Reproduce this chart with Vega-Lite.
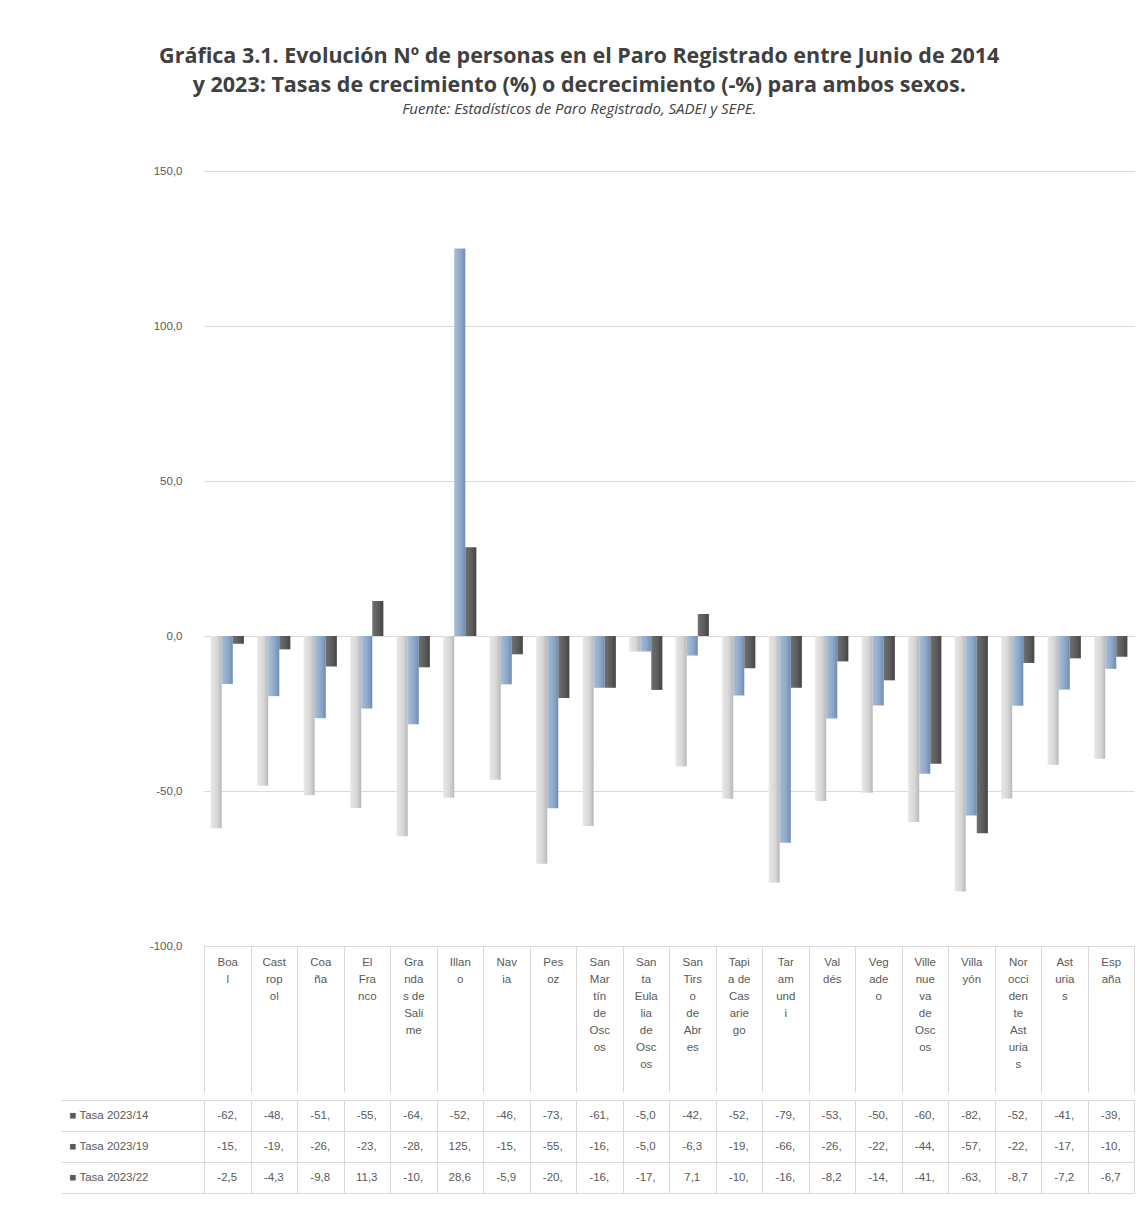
{
  "$schema": "https://vega.github.io/schema/vega-lite/v6.json",
  "padding": {"left": 60, "top": 45, "right": 3, "bottom": 10},
  "background": "white",
  "config": {
    "locale": {"number": {"decimal": ",", "thousands": ".", "grouping": [3], "currency": ["", " €"], "minus": "-"}},
    "font": "Liberation Sans Narrow, Liberation Sans, sans-serif",
    "view": {"stroke": null}
  },
  "title": {
    "text": ["Gráfica 3.1. Evolución Nº de personas en el Paro Registrado entre Junio de 2014", "y 2023: Tasas de crecimiento (%) o decrecimiento (-%) para ambos sexos."],
    "subtitle": "Fuente: Estadísticos de Paro Registrado, SADEI y SEPE.",
    "anchor": "middle",
    "dx": -18,
    "font": "Open Sans",
    "fontSize": 21.5,
    "fontWeight": "bold",
    "color": "#404040",
    "lineHeight": 29,
    "subtitleFont": "Open Sans",
    "subtitleFontSize": 15,
    "subtitleFontStyle": "italic",
    "subtitleColor": "#404040",
    "subtitlePadding": 6,
    "offset": 48
  },
  "datasets": {
    "municipios": [
      {"municipio": "Boal", "rotulo": "Boa|l"},
      {"municipio": "Castropol", "rotulo": "Cast|rop|ol"},
      {"municipio": "Coaña", "rotulo": "Coa|ña"},
      {"municipio": "El Franco", "rotulo": "El|Fra|nco"},
      {"municipio": "Grandas de Salime", "rotulo": "Gra|nda|s de|Sali|me"},
      {"municipio": "Illano", "rotulo": "Illan|o"},
      {"municipio": "Navia", "rotulo": "Nav|ia"},
      {"municipio": "Pesoz", "rotulo": "Pes|oz"},
      {"municipio": "San Martín de Oscos", "rotulo": "San|Mar|tín|de|Osc|os"},
      {"municipio": "Santa Eulalia de Oscos", "rotulo": "San|ta|Eula|lia|de|Osc|os"},
      {"municipio": "San Tirso de Abres", "rotulo": "San|Tirs|o|de|Abr|es"},
      {"municipio": "Tapia de Casariego", "rotulo": "Tapi|a de|Cas|arie|go"},
      {"municipio": "Taramundi", "rotulo": "Tar|am|und|i"},
      {"municipio": "Valdés", "rotulo": "Val|dés"},
      {"municipio": "Vegadeo", "rotulo": "Veg|ade|o"},
      {"municipio": "Villanueva de Oscos", "rotulo": "Ville|nue|va|de|Osc|os"},
      {"municipio": "Villayón", "rotulo": "Villa|yón"},
      {"municipio": "Noroccidente Asturias", "rotulo": "Nor|occi|den|te|Ast|uria|s"},
      {"municipio": "Asturias", "rotulo": "Ast|uria|s"},
      {"municipio": "España", "rotulo": "Esp|aña"}
    ],
    "tasas": [
      {"municipio": "Boal", "serie": "Tasa 2023/14", "tasa": -62.0},
      {"municipio": "Boal", "serie": "Tasa 2023/19", "tasa": -15.5},
      {"municipio": "Boal", "serie": "Tasa 2023/22", "tasa": -2.5},
      {"municipio": "Castropol", "serie": "Tasa 2023/14", "tasa": -48.3},
      {"municipio": "Castropol", "serie": "Tasa 2023/19", "tasa": -19.4},
      {"municipio": "Castropol", "serie": "Tasa 2023/22", "tasa": -4.3},
      {"municipio": "Coaña", "serie": "Tasa 2023/14", "tasa": -51.4},
      {"municipio": "Coaña", "serie": "Tasa 2023/19", "tasa": -26.5},
      {"municipio": "Coaña", "serie": "Tasa 2023/22", "tasa": -9.8},
      {"municipio": "El Franco", "serie": "Tasa 2023/14", "tasa": -55.5},
      {"municipio": "El Franco", "serie": "Tasa 2023/19", "tasa": -23.4},
      {"municipio": "El Franco", "serie": "Tasa 2023/22", "tasa": 11.3},
      {"municipio": "Grandas de Salime", "serie": "Tasa 2023/14", "tasa": -64.6},
      {"municipio": "Grandas de Salime", "serie": "Tasa 2023/19", "tasa": -28.5},
      {"municipio": "Grandas de Salime", "serie": "Tasa 2023/22", "tasa": -10.1},
      {"municipio": "Illano", "serie": "Tasa 2023/14", "tasa": -52.2},
      {"municipio": "Illano", "serie": "Tasa 2023/19", "tasa": 125.0},
      {"municipio": "Illano", "serie": "Tasa 2023/22", "tasa": 28.6},
      {"municipio": "Navia", "serie": "Tasa 2023/14", "tasa": -46.4},
      {"municipio": "Navia", "serie": "Tasa 2023/19", "tasa": -15.6},
      {"municipio": "Navia", "serie": "Tasa 2023/22", "tasa": -5.9},
      {"municipio": "Pesoz", "serie": "Tasa 2023/14", "tasa": -73.5},
      {"municipio": "Pesoz", "serie": "Tasa 2023/19", "tasa": -55.6},
      {"municipio": "Pesoz", "serie": "Tasa 2023/22", "tasa": -20.0},
      {"municipio": "San Martín de Oscos", "serie": "Tasa 2023/14", "tasa": -61.3},
      {"municipio": "San Martín de Oscos", "serie": "Tasa 2023/19", "tasa": -16.7},
      {"municipio": "San Martín de Oscos", "serie": "Tasa 2023/22", "tasa": -16.7},
      {"municipio": "Santa Eulalia de Oscos", "serie": "Tasa 2023/14", "tasa": -5.0},
      {"municipio": "Santa Eulalia de Oscos", "serie": "Tasa 2023/19", "tasa": -5.0},
      {"municipio": "Santa Eulalia de Oscos", "serie": "Tasa 2023/22", "tasa": -17.4},
      {"municipio": "San Tirso de Abres", "serie": "Tasa 2023/14", "tasa": -42.1},
      {"municipio": "San Tirso de Abres", "serie": "Tasa 2023/19", "tasa": -6.3},
      {"municipio": "San Tirso de Abres", "serie": "Tasa 2023/22", "tasa": 7.1},
      {"municipio": "Tapia de Casariego", "serie": "Tasa 2023/14", "tasa": -52.5},
      {"municipio": "Tapia de Casariego", "serie": "Tasa 2023/19", "tasa": -19.2},
      {"municipio": "Tapia de Casariego", "serie": "Tasa 2023/22", "tasa": -10.4},
      {"municipio": "Taramundi", "serie": "Tasa 2023/14", "tasa": -79.5},
      {"municipio": "Taramundi", "serie": "Tasa 2023/19", "tasa": -66.7},
      {"municipio": "Taramundi", "serie": "Tasa 2023/22", "tasa": -16.7},
      {"municipio": "Valdés", "serie": "Tasa 2023/14", "tasa": -53.2},
      {"municipio": "Valdés", "serie": "Tasa 2023/19", "tasa": -26.6},
      {"municipio": "Valdés", "serie": "Tasa 2023/22", "tasa": -8.2},
      {"municipio": "Vegadeo", "serie": "Tasa 2023/14", "tasa": -50.6},
      {"municipio": "Vegadeo", "serie": "Tasa 2023/19", "tasa": -22.4},
      {"municipio": "Vegadeo", "serie": "Tasa 2023/22", "tasa": -14.3},
      {"municipio": "Villanueva de Oscos", "serie": "Tasa 2023/14", "tasa": -60.0},
      {"municipio": "Villanueva de Oscos", "serie": "Tasa 2023/19", "tasa": -44.4},
      {"municipio": "Villanueva de Oscos", "serie": "Tasa 2023/22", "tasa": -41.2},
      {"municipio": "Villayón", "serie": "Tasa 2023/14", "tasa": -82.4},
      {"municipio": "Villayón", "serie": "Tasa 2023/19", "tasa": -57.9},
      {"municipio": "Villayón", "serie": "Tasa 2023/22", "tasa": -63.6},
      {"municipio": "Noroccidente Asturias", "serie": "Tasa 2023/14", "tasa": -52.4},
      {"municipio": "Noroccidente Asturias", "serie": "Tasa 2023/19", "tasa": -22.5},
      {"municipio": "Noroccidente Asturias", "serie": "Tasa 2023/22", "tasa": -8.7},
      {"municipio": "Asturias", "serie": "Tasa 2023/14", "tasa": -41.5},
      {"municipio": "Asturias", "serie": "Tasa 2023/19", "tasa": -17.3},
      {"municipio": "Asturias", "serie": "Tasa 2023/22", "tasa": -7.2},
      {"municipio": "España", "serie": "Tasa 2023/14", "tasa": -39.6},
      {"municipio": "España", "serie": "Tasa 2023/19", "tasa": -10.6},
      {"municipio": "España", "serie": "Tasa 2023/22", "tasa": -6.7}
    ]
  },
  "spacing": 0,
  "vconcat": [
    {
      "width": 930,
      "height": 775,
      "data": {"name": "tasas"},
      "transform": [
        {"lookup": "municipio", "from": {"data": {"name": "municipios"}, "key": "municipio", "fields": ["rotulo"]}}
      ],
      "encoding": {
        "x": {
          "field": "rotulo", "type": "nominal", "sort": null,
          "scale": {"paddingInner": 0, "paddingOuter": 0},
          "axis": {
            "title": null, "labelAngle": 0, "labelExpr": "split(datum.label, '|')",
            "labelBaseline": "top", "labelAlign": "center", "labelPadding": -136,
            "labelLineHeight": 17, "labelFontSize": 11.5, "labelColor": "#595959",
            "labelLimit": 0, "labelOverlap": false,
            "tickBand": "extent", "tickSize": 146, "tickColor": "#d9d9d9",
            "domainColor": "#d9d9d9", "grid": false
          }
        },
        "xOffset": {"field": "serie", "type": "nominal", "sort": null, "scale": {"domain": ["Tasa 2023/14", "Tasa 2023/19", "Tasa 2023/22"], "paddingOuter": 0.6, "paddingInner": 0}},
        "y": {
          "field": "tasa", "type": "quantitative",
          "scale": {"domain": [-100, 150], "nice": false},
          "axis": {
            "title": null, "values": [-100, -50, 0, 50, 100, 150], "format": ".1f",
            "ticks": false, "domain": false, "gridColor": "#d9d9d9",
            "labelPadding": 22, "labelFontSize": 11.5, "labelColor": "#595959"
          }
        }
      },
      "layer": [
        {
          "transform": [{"filter": "datum.serie == 'Tasa 2023/14'"}],
          "mark": {"type": "bar", "color": {"gradient": "linear", "x1": 0, "x2": 1, "y1": 0, "y2": 0, "stops": [{"offset": 0, "color": "#e8e8e8"}, {"offset": 0.6, "color": "#d6d6d6"}, {"offset": 1, "color": "#b8b8b8"}]}}
        },
        {
          "transform": [{"filter": "datum.serie == 'Tasa 2023/19'"}],
          "mark": {"type": "bar", "color": {"gradient": "linear", "x1": 0, "x2": 1, "y1": 0, "y2": 0, "stops": [{"offset": 0, "color": "#a9bed8"}, {"offset": 0.6, "color": "#8ca7c7"}, {"offset": 1, "color": "#6f8db2"}]}}
        },
        {
          "transform": [{"filter": "datum.serie == 'Tasa 2023/22'"}],
          "mark": {"type": "bar", "color": {"gradient": "linear", "x1": 0, "x2": 1, "y1": 0, "y2": 0, "stops": [{"offset": 0, "color": "#707070"}, {"offset": 0.6, "color": "#5a5a5a"}, {"offset": 1, "color": "#444444"}]}}
        }
      ]
    },
    {
      "width": 930,
      "height": 93,
      "data": {"name": "tasas"},
      "transform": [
        {"lookup": "municipio", "from": {"data": {"name": "municipios"}, "key": "municipio", "fields": ["rotulo"]}},
        {"calculate": "substring(format(datum.tasa, '.1f'), 0, 4)", "as": "etiqueta"}
      ],
      "view": {"stroke": "#d9d9d9"},
      "mark": {"type": "text", "fontSize": 11.5, "color": "#595959"},
      "encoding": {
        "x": {
          "field": "rotulo", "type": "nominal", "sort": null,
          "scale": {"paddingInner": 0, "paddingOuter": 0},
          "axis": {"title": null, "labels": false, "ticks": false, "domain": false, "grid": true, "tickBand": "extent", "gridColor": "#d9d9d9"}
        },
        "y": {
          "field": "serie", "type": "nominal", "sort": null,
          "axis": {
            "title": null, "tickBand": "extent", "tickSize": 143, "tickColor": "#d9d9d9",
            "grid": true, "gridColor": "#d9d9d9", "domain": false,
            "labelAlign": "left", "labelPadding": -8,
            "labelExpr": "datum.label ? '■ ' + datum.label : ''",
            "labelFontSize": 11.5, "labelColor": "#595959"
          }
        },
        "text": {"field": "etiqueta"}
      }
    }
  ]
}
